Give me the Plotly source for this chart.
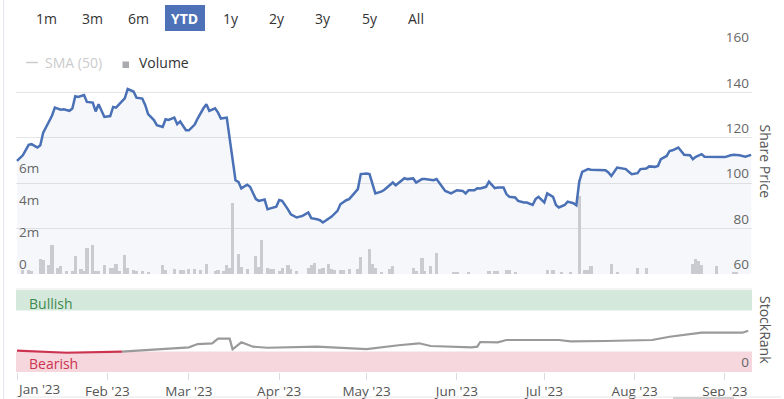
import plotly.graph_objects as go

# ---------------- data ----------------
price_dates = [
    "2023-01-01", "2023-01-03", "2023-01-05", "2023-01-06", "2023-01-08", "2023-01-09", "2023-01-10",
    "2023-01-12", "2023-01-13", "2023-01-14", "2023-01-16", "2023-01-17", "2023-01-19", "2023-01-20",
    "2023-01-21", "2023-01-22", "2023-01-24", "2023-01-25", "2023-01-27", "2023-01-28", "2023-01-29",
    "2023-01-31", "2023-02-02", "2023-02-03", "2023-02-04", "2023-02-06", "2023-02-07", "2023-02-08",
    "2023-02-10", "2023-02-11", "2023-02-13", "2023-02-14", "2023-02-15", "2023-02-17", "2023-02-18",
    "2023-02-20", "2023-02-21", "2023-02-22", "2023-02-24", "2023-02-25", "2023-02-26", "2023-02-28",
    "2023-03-01", "2023-03-03", "2023-03-04", "2023-03-06", "2023-03-07", "2023-03-08", "2023-03-10",
    "2023-03-11", "2023-03-12", "2023-03-14", "2023-03-15", "2023-03-16", "2023-03-17", "2023-03-18",
    "2023-03-19", "2023-03-21", "2023-03-22", "2023-03-24", "2023-03-25", "2023-03-27", "2023-03-28",
    "2023-03-29", "2023-03-31", "2023-04-01", "2023-04-02", "2023-04-04", "2023-04-05", "2023-04-07",
    "2023-04-09", "2023-04-11", "2023-04-12", "2023-04-14", "2023-04-15", "2023-04-16", "2023-04-18",
    "2023-04-19", "2023-04-21", "2023-04-22", "2023-04-24", "2023-04-25", "2023-04-26", "2023-04-28",
    "2023-04-29", "2023-05-01", "2023-05-02", "2023-05-03", "2023-05-04", "2023-05-06", "2023-05-07",
    "2023-05-08", "2023-05-10", "2023-05-11", "2023-05-13", "2023-05-14", "2023-05-15", "2023-05-17",
    "2023-05-18", "2023-05-20", "2023-05-21", "2023-05-23", "2023-05-24", "2023-05-25", "2023-05-27",
    "2023-05-28", "2023-05-30", "2023-05-31", "2023-06-01", "2023-06-03", "2023-06-04", "2023-06-05",
    "2023-06-07", "2023-06-08", "2023-06-09", "2023-06-11", "2023-06-12", "2023-06-14", "2023-06-15",
    "2023-06-17", "2023-06-18", "2023-06-19", "2023-06-21", "2023-06-22", "2023-06-24", "2023-06-25",
    "2023-06-27", "2023-06-28", "2023-06-29", "2023-07-01", "2023-07-02", "2023-07-04", "2023-07-05",
    "2023-07-06", "2023-07-08", "2023-07-09", "2023-07-11", "2023-07-12", "2023-07-13", "2023-07-14",
    "2023-07-16", "2023-07-17", "2023-07-19", "2023-07-20", "2023-07-22", "2023-07-23", "2023-07-24",
    "2023-07-26", "2023-07-27", "2023-07-29", "2023-07-30", "2023-07-31", "2023-08-02", "2023-08-03",
    "2023-08-05", "2023-08-06", "2023-08-08", "2023-08-09", "2023-08-10", "2023-08-12", "2023-08-13",
    "2023-08-14", "2023-08-16", "2023-08-17", "2023-08-18", "2023-08-20", "2023-08-21", "2023-08-22",
    "2023-08-24", "2023-08-25", "2023-08-27", "2023-08-29", "2023-09-01", "2023-09-03", "2023-09-04",
    "2023-09-06", "2023-09-08", "2023-09-10",
]
share_price = [
    109.8, 112.3, 116.9, 117.2, 115.7, 116.7, 122.3,
    127.2, 129.7, 133.3, 132.4, 132.6, 131.9, 132.9,
    138.3, 138.0, 138.8, 135.8, 135.5, 131.6, 134.8,
    129.2, 129.6, 133.6, 133.3, 136.0, 137.4, 141.5,
    140.4, 137.7, 137.3, 134.5, 130.4, 127.8, 125.6,
    124.8, 128.2, 127.9, 128.9, 126.0, 127.2, 123.3,
    123.3, 125.8, 128.5, 133.0, 134.8, 131.9, 133.0,
    131.1, 128.5, 128.9, 120.1, 109.8, 101.3, 100.6,
    97.7, 99.3, 98.4, 93.0, 92.2, 92.8, 88.5,
    88.9, 89.6, 92.6, 92.2, 88.5, 86.3, 84.9,
    85.6, 87.1, 84.6, 84.1, 83.7, 82.7, 84.4,
    85.3, 87.8, 90.7, 92.5, 93.0, 94.4, 97.4,
    104.0, 104.3, 104.0, 99.6, 95.5, 96.3, 97.0,
    98.1, 100.3, 99.1, 101.3, 102.2, 101.8, 102.1,
    100.3, 101.8, 101.8, 101.5, 101.3, 101.8, 98.1,
    96.6, 95.5, 96.3, 96.9, 96.6, 95.5, 96.9,
    96.9, 97.8, 97.7, 98.4, 100.7, 97.8, 98.1,
    98.1, 95.2, 94.0, 93.7, 92.2, 91.5, 91.5,
    90.4, 93.0, 94.0, 91.5, 95.5, 94.0, 90.4,
    89.3, 90.4, 91.9, 91.2, 90.3, 100.7, 105.0,
    106.2, 105.9, 105.7, 105.9, 105.7, 104.7, 103.2,
    106.9, 106.6, 106.2, 105.0, 104.0, 104.4, 106.2,
    106.5, 107.4, 107.2, 107.6, 110.6, 112.0, 114.2,
    114.5, 115.7, 114.2, 112.5, 112.3, 110.6, 111.6,
    112.8, 111.7, 111.6, 111.5, 111.5, 112.3, 112.5,
    112.3, 111.7, 112.5,
]

volume_dates = [
    "2023-01-03", "2023-01-05", "2023-01-06", "2023-01-09", "2023-01-10", "2023-01-12", "2023-01-13",
    "2023-01-15", "2023-01-16", "2023-01-18", "2023-01-20", "2023-01-21", "2023-01-23", "2023-01-24",
    "2023-01-25", "2023-01-27", "2023-01-28", "2023-01-29", "2023-01-31", "2023-02-02", "2023-02-03",
    "2023-02-04", "2023-02-05", "2023-02-07", "2023-02-08", "2023-02-10", "2023-02-11", "2023-02-13",
    "2023-02-15", "2023-02-20", "2023-02-21", "2023-02-24", "2023-02-26", "2023-02-27", "2023-03-01",
    "2023-03-03", "2023-03-05", "2023-03-07", "2023-03-10", "2023-03-11", "2023-03-13", "2023-03-14",
    "2023-03-15", "2023-03-16", "2023-03-18", "2023-03-19", "2023-03-21", "2023-03-24", "2023-03-25",
    "2023-03-26", "2023-03-28", "2023-03-29", "2023-03-30", "2023-04-01", "2023-04-02", "2023-04-04",
    "2023-04-05", "2023-04-07", "2023-04-11", "2023-04-12", "2023-04-13", "2023-04-15", "2023-04-16",
    "2023-04-18", "2023-04-19", "2023-04-20", "2023-04-22", "2023-04-23", "2023-04-25", "2023-04-28",
    "2023-04-29", "2023-05-02", "2023-05-03", "2023-05-04", "2023-05-06", "2023-05-09", "2023-05-10",
    "2023-05-17", "2023-05-18", "2023-05-20", "2023-05-21", "2023-05-23", "2023-05-25", "2023-05-31",
    "2023-06-01", "2023-06-05", "2023-06-12", "2023-06-14", "2023-06-15", "2023-06-18", "2023-06-19",
    "2023-06-21", "2023-07-02", "2023-07-04", "2023-07-07", "2023-07-10", "2023-07-13", "2023-07-15",
    "2023-07-16", "2023-07-17", "2023-07-24", "2023-07-26", "2023-08-02", "2023-08-05", "2023-08-21",
    "2023-08-22", "2023-08-23", "2023-08-24", "2023-08-29", "2023-09-04", "2023-09-05",
]
volume = [
    0.25, 0.25, 0.2, 0.94, 0.9, 0.56, 1.8,
    0.4, 0.5, 0.2, 0.2, 1.1, 0.3, 0.2,
    1.6, 1.8, 0.2, 0.2, 0.56, 0.4, 0.4,
    0.6, 0.2, 1.2, 0.35, 0.25, 0.2, 0.2,
    0.1, 0.56, 0.25, 0.3, 0.25, 0.25, 0.3,
    0.3, 0.25, 0.63, 0.2, 0.25, 0.2, 0.56,
    0.35, 4.45, 1.25, 0.45, 0.3, 1.12, 0.45,
    2.1, 0.4, 0.3, 0.3, 0.2, 0.35, 0.56,
    0.3, 0.2, 0.35, 0.56, 0.7, 0.3, 0.4,
    0.63, 0.3, 0.25, 0.25, 0.25, 0.3, 0.3,
    1.04, 1.56, 0.63, 0.4, 0.15, 0.3, 0.5,
    0.4, 0.2, 1.0, 0.2, 0.5, 1.33, 0.12,
    0.12, 0.15, 0.2, 0.2, 0.2, 0.25, 0.25,
    0.15, 0.25, 0.25, 0.12, 0.12, 4.87, 0.25,
    0.25, 0.5, 0.63, 0.12, 0.4, 0.4, 0.63,
    0.94, 0.83, 0.56, 0.5, 0.15, 0.12,
]
volume = [v * 1e6 for v in volume]

rank_dates = [
    "2023-01-01", "2023-01-18", "2023-02-06", "2023-02-19", "2023-03-01", "2023-03-04", "2023-03-09",
    "2023-03-11", "2023-03-15", "2023-03-16", "2023-03-19", "2023-03-23", "2023-03-28", "2023-04-14",
    "2023-05-01", "2023-05-12", "2023-05-19", "2023-05-23", "2023-06-06", "2023-06-08", "2023-06-09",
    "2023-06-15", "2023-06-18", "2023-07-06", "2023-07-10", "2023-07-22", "2023-08-07", "2023-08-13",
    "2023-08-24", "2023-09-07", "2023-09-09",
]
stock_rank = [
    26.0, 23.5, 24.8, 27.7, 30.1, 34.1, 35.0,
    40.6, 40.6, 27.7, 36.2, 30.9, 29.6, 30.9,
    28.0, 32.6, 35.0, 31.7, 30.1, 30.9, 36.6,
    36.2, 39.0, 39.0, 37.4, 37.8, 39.0, 43.0,
    47.9, 47.9, 50.4,
]
bearish_until = 3  # first points drawn in red

range_buttons = ["1m", "3m", "6m", "YTD", "1y", "2y", "3y", "5y", "All"]
selected_button = "YTD"

# ---------------- layout helpers ----------------
W, H = 784, 399
L, R, T, B = 16, 752, 47, 372
FONT = "Open Sans"


def px(xp):
    return (xp - L) / (R - L)


def py(yp):
    return (B - yp) / (B - T)


PRICE_BLUE = "#4a70b5"

fig = go.Figure()

# price area fill (base layer)
fig.add_trace(go.Scatter(
    x=price_dates, y=share_price, mode="lines", line=dict(width=0),
    fill="tozeroy", fillcolor="rgba(74,112,181,0.055)", hoverinfo="skip",
    xaxis="x", yaxis="y", showlegend=False))

# volume bars
fig.add_trace(go.Bar(
    x=volume_dates, y=volume, marker=dict(color="#c9cbd1", line=dict(width=0)),
    width=86400000 * 1.1, xaxis="x", yaxis="y2", showlegend=False, name="Volume"))

# price line on top
fig.add_trace(go.Scatter(
    x=price_dates, y=share_price, mode="lines",
    line=dict(color=PRICE_BLUE, width=2.5), xaxis="x", yaxis="y3",
    showlegend=False, name="Share Price"))

# StockRank line
fig.add_trace(go.Scatter(
    x=rank_dates[bearish_until - 1:], y=stock_rank[bearish_until - 1:], mode="lines",
    line=dict(color="#9a9a9a", width=2.2), xaxis="x", yaxis="y4", showlegend=False))
fig.add_trace(go.Scatter(
    x=rank_dates[:bearish_until], y=stock_rank[:bearish_until], mode="lines",
    line=dict(color="#cc3350", width=2.2), xaxis="x", yaxis="y4", showlegend=False))

top_domain = [py(274), 1.0]
bot_domain = [0.0, py(290)]

fig.update_layout(
    width=W, height=H,
    margin=dict(l=L, r=W - R, t=T, b=H - B, pad=0, autoexpand=False),
    paper_bgcolor="white", plot_bgcolor="white",
    font=dict(family=FONT, size=13, color="#666666"),
    bargap=0,
    xaxis=dict(
        type="date", anchor="y4", automargin=False,
        range=["2022-12-31 15:45", "2023-09-10 07:00"],
        tickvals=["2023-02-01", "2023-03-01", "2023-04-01", "2023-05-01",
                  "2023-06-01", "2023-07-01", "2023-08-01", "2023-09-01", "2023-01-01"],
        ticktext=["Feb '23", "Mar '23", "Apr '23", "May '23",
                  "Jun '23", "Jul '23", "Aug '23", "Sep '23", ""],
        ticks="outside", ticklen=7, tickcolor="#d8dce6", tickwidth=1,
        showgrid=False, showline=False, zeroline=False,
        tickfont=dict(size=13.5, color="#555555"),
    ),
    yaxis=dict(
        domain=top_domain, range=[60, 160], side="right", automargin=False,
        tickvals=[60, 80, 100, 120, 140, 160],
        ticklabelposition="inside top", ticklabeloverflow="allow",
        showgrid=True, gridcolor="#e6e6e6", gridwidth=1,
        zeroline=False, showline=False, ticks="",
        tickfont=dict(size=13.5, color="#666666"),
    ),
    yaxis2=dict(
        overlaying="y", range=[0, 14.19e6], side="left", automargin=False,
        tickvals=[0, 2e6, 4e6, 6e6], ticktext=["0", "2m", "4m", "6m"],
        ticklabelposition="inside top", ticklabeloverflow="allow",
        showgrid=False, zeroline=False, showline=False, ticks="",
        tickfont=dict(size=13.5, color="#666666"),
    ),
    yaxis3=dict(
        overlaying="y", range=[60, 160], visible=False, automargin=False,
    ),
    yaxis4=dict(
        domain=bot_domain, range=[0, 100], side="right", automargin=False,
        tickvals=[0], ticklabelposition="inside top", ticklabeloverflow="allow",
        showgrid=False, zeroline=False, showline=False, ticks="",
        tickfont=dict(size=13.5, color="#666666"),
    ),
)

shapes = []
# StockRank bands
shapes.append(dict(type="rect", xref="x domain", yref="y4", x0=0, x1=1, y0=75, y1=100,
                   fillcolor="#d5e8dc", line=dict(width=0), layer="below"))
shapes.append(dict(type="rect", xref="x domain", yref="y4", x0=0, x1=1, y0=0, y1=25,
                   fillcolor="#f5d7dd", line=dict(width=0), layer="below"))
# pane top line for StockRank
shapes.append(dict(type="line", xref="paper", yref="paper", x0=0, x1=1, y0=py(289), y1=py(289),
                   line=dict(color="#e8e8e8", width=1), layer="below"))
# selected range button
shapes.append(dict(type="rect", xref="paper", yref="paper", x0=px(165), x1=px(205),
                   y0=py(31), y1=py(5), fillcolor="#4d72b8", line=dict(width=0)))
# legend markers
shapes.append(dict(type="line", xref="paper", yref="paper", x0=px(26), x1=px(38),
                   y0=py(62.5), y1=py(62.5), line=dict(color="#cccccc", width=1.5)))
shapes.append(dict(type="rect", xref="paper", yref="paper", x0=px(122.5), x1=px(129),
                   y0=py(68), y1=py(61.5), fillcolor="#a9abb0", line=dict(width=0)))
# left page border
shapes.append(dict(type="line", xref="paper", yref="paper", x0=px(3.5), x1=px(3.5),
                   y0=py(399), y1=py(0), line=dict(color="#e4e7ef", width=1)))
# navigator strip at bottom
shapes.append(dict(type="line", xref="paper", yref="paper", x0=0, x1=px(781),
                   y0=py(397), y1=py(397), line=dict(color="#e6e6e6", width=1)))
shapes.append(dict(type="rect", xref="paper", yref="paper", x0=px(673), x1=px(734),
                   y0=py(399.5), y1=py(397), fillcolor="#d0d0d0", line=dict(width=0)))
fig.update_layout(shapes=shapes)

annotations = []
btn_centers = [46.5, 92.5, 138, 184.5, 231, 276.5, 323, 370, 415.5]
for lab, cx in zip(range_buttons, btn_centers):
    sel = lab == selected_button
    annotations.append(dict(
        xref="paper", yref="paper", x=px(cx), y=py(18), text=f"<b>{lab}</b>" if sel else lab,
        showarrow=False, xanchor="center", yanchor="middle",
        font=dict(family=FONT, size=14, color="white" if sel else "#333333")))
annotations += [
    dict(xref="paper", yref="paper", x=px(43), y=py(63), text="SMA (50)", showarrow=False,
         xanchor="left", yanchor="middle", font=dict(family=FONT, size=14, color="#cccccc")),
    dict(xref="paper", yref="paper", x=px(137), y=py(63), text="Volume", showarrow=False,
         xanchor="left", yanchor="middle", font=dict(family=FONT, size=14, color="#333333")),
    dict(xref="paper", yref="y4", x=px(27), y=84, text="Bullish", showarrow=False,
         xanchor="left", yanchor="middle", font=dict(family=FONT, size=14, color="#3f8a4e")),
    dict(xref="paper", yref="y4", x=px(27), y=10, text="Bearish", showarrow=False,
         xanchor="left", yanchor="middle", font=dict(family=FONT, size=14, color="#cc3350")),
    dict(xref="paper", yref="paper", x=px(765.5), y=py(161), text="Share Price", showarrow=False,
         textangle=90, xanchor="center", yanchor="middle",
         font=dict(family=FONT, size=14, color="#555555")),
    dict(xref="paper", yref="paper", x=px(766), y=py(330), text="StockRank", showarrow=False,
         textangle=90, xanchor="center", yanchor="middle",
         font=dict(family=FONT, size=14, color="#555555")),
    dict(xref="paper", yref="paper", x=px(15), y=py(389), text="Jan '23", showarrow=False,
         xanchor="left", yanchor="middle", font=dict(family=FONT, size=13.5, color="#555555")),
]
fig.update_layout(annotations=annotations)

fig.write_html("out.html", post_script="document.body.style.margin='0';",
               config={"displayModeBar": False})
